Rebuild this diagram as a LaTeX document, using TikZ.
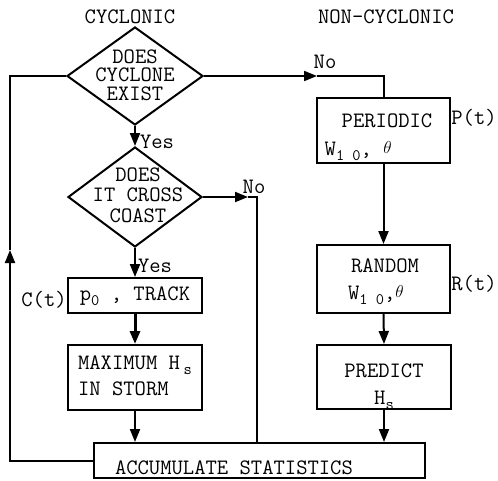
\documentclass[tikz,border=0pt]{standalone}
\usepackage{fontspec}
\usetikzlibrary{arrows.meta,shapes.geometric}
\newcommand\lowr[1]{\raisebox{-5pt}{\fontsize{16}{16}\selectfont #1}}
\newcommand\thet{\raisebox{2pt}{\fontsize{18}{18}\selectfont$\theta$}}
\newcommand\tbl[3]{\raisebox{#1}[0pt][0pt]{\begin{tabular}{@{}#2@{}}#3\end{tabular}}}
\begin{document}
\begin{tikzpicture}[x=1pt,y=-1pt,
  every node/.style={font=\ttfamily\fontsize{22}{18}\selectfont, inner sep=0pt},
  ln/.style={line width=2pt},
  arr/.style={ln,-{Triangle[length=13pt,width=10pt]}},
  box/.style={draw,ln,rectangle,inner sep=0pt},
  dmd/.style={draw,ln,diamond,inner sep=0pt}]
\useasboundingbox (0,0) rectangle (498,480);

% headings
\node (cyc) at (130,17) {CYCLONIC};
\node (ncyc) at (386,17) {NON-CYCLONIC};

% decisions
\node[dmd, minimum width=136pt, minimum height=98pt] (d1) at (135,76)
  {\tbl{-7pt}{c}{DOES\\[-1pt]CYCLONE\\[-1pt]EXIST}};
\node[dmd, minimum width=134pt, minimum height=100pt] (d2) at (135,197)
  {\hspace*{6pt}\tbl{-6pt}{c}{DOES\\[1pt]IT CROSS\\[1pt]COAST}};

% cyclonic boxes
\node[box, minimum width=134pt, minimum height=35pt] (ct) at (135,295.5)
  {\tbl{-6pt}{l}{p\lowr{0}\ , TRACK}};
\node[box, minimum width=134pt, minimum height=65pt] (mx) at (135,377.5)
  {\tbl{-6pt}{l}{MAXIMUM H\,\lowr{s}\\[7pt]IN STORM}};

% non-cyclonic boxes
\node[box, minimum width=133pt, minimum height=65pt] (per) at (383.5,130.5)
  {\tbl{-12pt}{l}{\hspace*{17pt}PERIODIC\\[8pt]W\lowr{1 0}, \thet}\hspace*{10pt}};
\node[box, minimum width=133pt, minimum height=68pt] (ran) at (383.5,279)
  {\tbl{-8pt}{l}{\hspace*{3pt}RANDOM\\[8pt]W\lowr{1 0},\thet}};
\node[box, minimum width=134pt, minimum height=64pt] (pre) at (384,377)
  {\tbl{-15pt}{c}{PREDICT\\[8pt]H\lowr{s}}};

% accumulate
\node[box, minimum height=35pt] (acc) at (259.5,460.5)
  {\makebox[331pt][l]{\hspace{21pt}\raisebox{-14pt}[0pt][0pt]{ACCUMULATE STATISTICS}}};

% side labels
\node (ctl) at (44,300) {C(t)};
\node (ptl) at (474,118) {P(t)};
\node (rtl) at (474,284) {R(t)};
\node (yes1) at (157,142) {Yes};
\node (yes2) at (155,266) {Yes};
\node (no1) at (325,62) {No};
\node (no2) at (254,187) {No};

% helper coordinates
\coordinate (lb) at (10,460.5);
\coordinate (lm) at (10,250);
\coordinate (lt) at (10,76);
\coordinate (n1m) at (317,76);
\coordinate (n1c) at (383.5,76);
\coordinate (n2m) at (248,197);
\coordinate (n2c) at (257,197);

% connectors
\draw[arr] (d1.south) -- (d2.north);
\draw[arr] (d2.south) -- (ct.north);
\draw[arr, line width=3pt] (ct.south) -- (mx.north);
\draw[arr] (mx.south) -- (mx.south |- acc.north);
\draw[arr] (d1.east) -- (n1m);
\draw[ln] (n1m) -- (n1c) -- (per.north);
\draw[arr] (d2.east) -- (n2m);
\draw[ln] (n2m) -- (n2c) -- (n2c |- acc.north);
\draw[arr] (per.south) -- (ran.north);
\draw[arr] (ran.south) -- (pre.north);
\draw[arr] (pre.south) -- (pre.south |- acc.north);
\draw[arr] (acc.west) -- (lb) -- (lm);
\draw[ln] (lm) -- (lt) -- (d1.west);
\end{tikzpicture}
\end{document}
